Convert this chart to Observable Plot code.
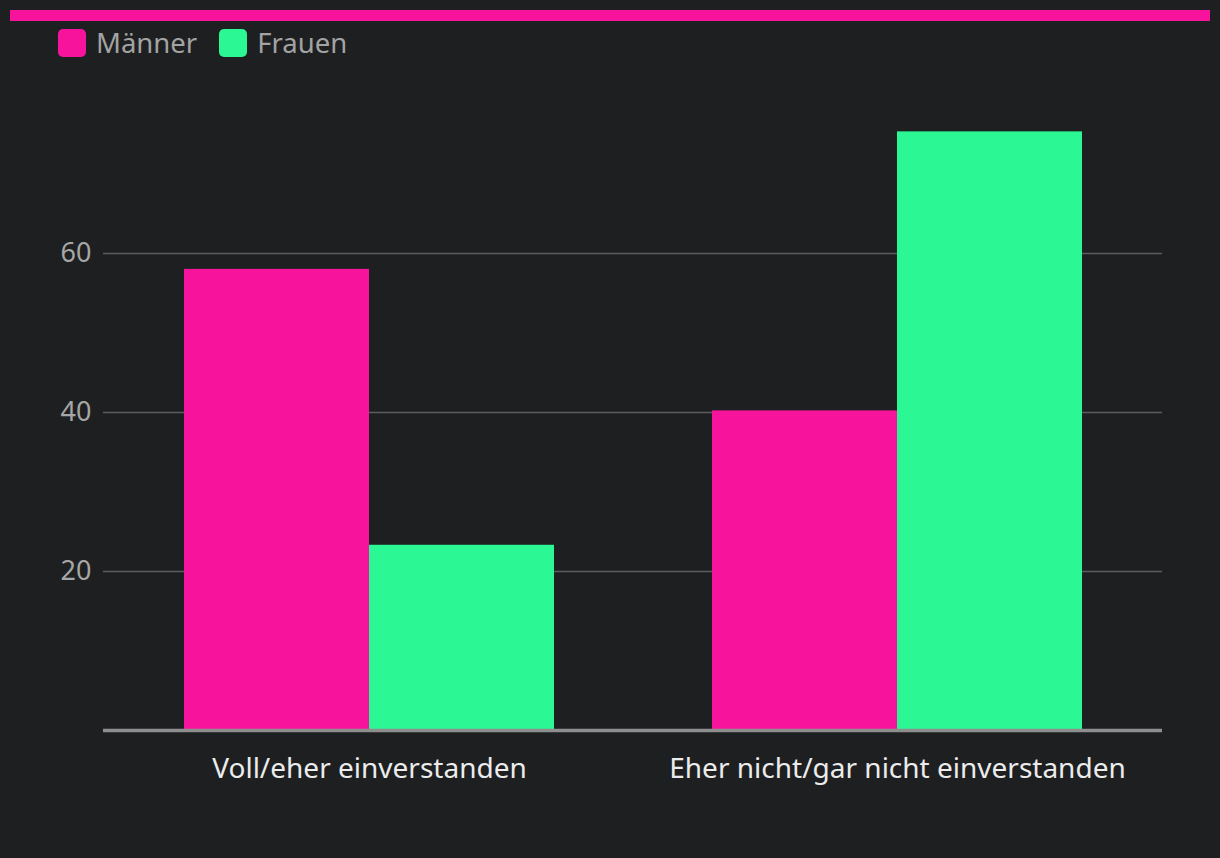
<!DOCTYPE html>
<html>
<head>
<meta charset="utf-8">
<script src="https://cdn.jsdelivr.net/npm/d3@7"></script>
<script src="https://cdn.jsdelivr.net/npm/@observablehq/plot@0.6"></script>
<style>
  html, body { margin: 0; padding: 0; background: #1e1f21; width: 1220px; height: 858px; overflow: hidden; }
  body { font-family: "Noto Sans", sans-serif; position: relative; }
  #topbar { position: absolute; left: 10px; top: 10px; width: 1200px; height: 11px; background: #f7139b; }
  #legend { position: absolute; left: 58px; top: 24px; display: flex; align-items: center; font-size: 27.5px; color: #a3a3a3; line-height: 38px; }
  .item { display: flex; align-items: center; margin-right: 22px; }
  .sw { width: 28px; height: 28px; border-radius: 5px; margin-right: 10px; }
  #chart { position: absolute; left: 0; top: 60px; }
</style>
</head>
<body>
<div id="topbar"></div>
<div id="legend"></div>
<div id="chart"></div>
<script>
const categories = ["Voll/eher einverstanden", "Eher nicht/gar nicht einverstanden"];
const series = ["Männer", "Frauen"];
const maenner = [58, 40.2];
const frauen = [23.3, 75.3];
const yTicks = [20, 40, 60];
const colors = ["#f7139b", "#2bf794"];

const data = [];
categories.forEach((c, i) => {
  data.push({category: c, sex: "Männer", value: maenner[i]});
  data.push({category: c, sex: "Frauen", value: frauen[i]});
});

const legend = document.getElementById("legend");
series.forEach((s, i) => {
  const it = document.createElement("div");
  it.className = "item";
  it.innerHTML = `<div class="sw" style="background:${colors[i]}"></div><span>${s}</span>`;
  legend.appendChild(it);
});

const W = 1220, H = 798;
const half = 185;
const plot = Plot.plot({
  width: W,
  height: H,
  marginLeft: 103,
  marginRight: 58,
  marginTop: 34,
  marginBottom: 128,
  style: {background: "transparent", fontFamily: "Noto Sans, sans-serif", overflow: "visible"},
  x: {domain: categories, paddingInner: 0.3, paddingOuter: 0.151, label: null},
  y: {domain: [0, 80], label: null},
  color: {domain: series, range: colors},
  marks: [
    Plot.ruleY(yTicks, {stroke: "#5c5c5c", strokeWidth: 1.5}),
    Plot.barY(data.filter(d => d.sex === "Männer"), {x: "category", y: "value", fill: "sex", insetRight: half}),
    Plot.barY(data.filter(d => d.sex === "Frauen"), {x: "category", y: "value", fill: "sex", insetLeft: half}),
    Plot.ruleY([0], {stroke: "#8e8e8e", strokeWidth: 3.5}),
    Plot.axisY({ticks: yTicks, tickSize: 0, tickPadding: 12, fontSize: 27, color: "#a6a6a6", label: null}),
    Plot.axisX({tickSize: 0, tickPadding: 28, fontSize: 28, color: "#ececec", label: null})
  ]
});
document.getElementById("chart").appendChild(plot);
</script>
</body>
</html>
